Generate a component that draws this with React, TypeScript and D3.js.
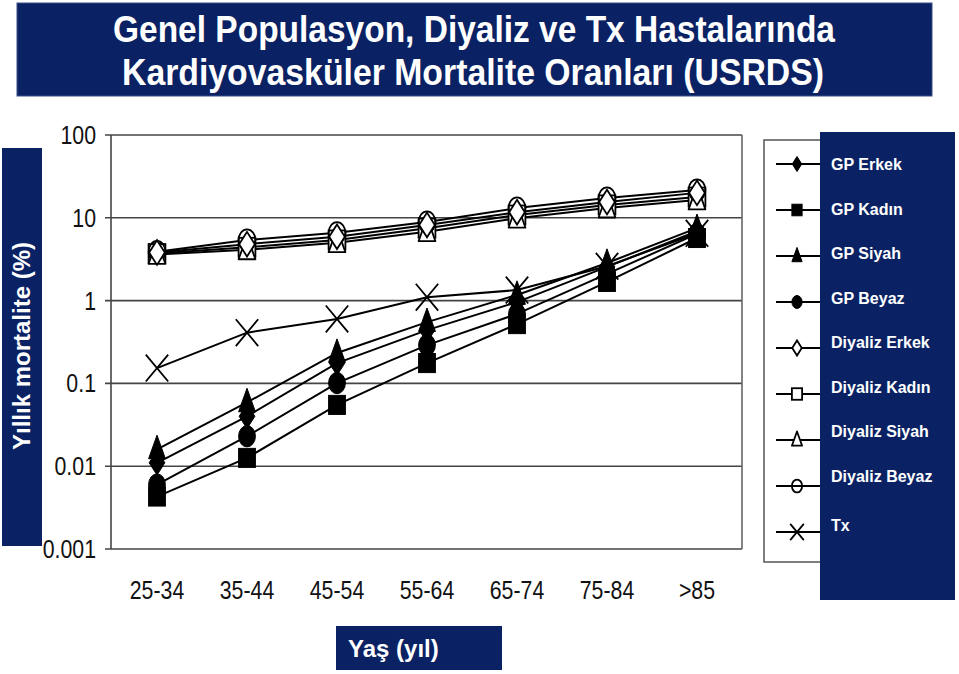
import React from "react";
import * as d3 from "d3";

const ageGroups = ["25-34", "35-44", "45-54", "55-64", "65-74", "75-84", ">85"];
const gpErkek = [0.011, 0.04, 0.176, 0.44, 0.96, 2.55, 6.9];
const gpKadin = [0.0043, 0.0126, 0.055, 0.176, 0.52, 1.68, 5.7];
const gpSiyah = [0.016, 0.059, 0.233, 0.55, 1.17, 2.85, 7.5];
const gpBeyaz = [0.006, 0.023, 0.101, 0.29, 0.69, 2.1, 6.4];
const diyalizErkek = [3.8, 4.8, 5.9, 8.2, 11.7, 15.5, 20.0];
const diyalizKadin = [3.7, 4.4, 5.4, 7.5, 10.8, 14.3, 17.8];
const diyalizSiyah = [3.6, 4.1, 5.0, 6.8, 9.9, 13.1, 16.4];
const diyalizBeyaz = [3.9, 5.4, 6.6, 8.9, 13.1, 17.3, 21.7];
const tx = [0.153, 0.41, 0.6, 1.1, 1.34, 2.6, 6.5];
const yTicks = [100, 10, 1, 0.1, 0.01, 0.001];
const yTickLabels = ["100", "10", "1", "0.1", "0.01", "0.001"];
const titleLines = [
  "Genel Populasyon, Diyaliz ve Tx Hastalarında",
  "Kardiyovasküler Mortalite Oranları (USRDS)",
];
const yAxisTitle = "Yıllık mortalite (%)";
const xAxisTitle = "Yaş (yıl)";

type Shape = "diamond" | "square" | "triangle" | "circle" | "x";
const seriesList: { name: string; values: number[]; shape: Shape; filled: boolean }[] = [
  { name: "GP Erkek", values: gpErkek, shape: "diamond", filled: true },
  { name: "GP Kadın", values: gpKadin, shape: "square", filled: true },
  { name: "GP Siyah", values: gpSiyah, shape: "triangle", filled: true },
  { name: "GP Beyaz", values: gpBeyaz, shape: "circle", filled: true },
  { name: "Diyaliz Erkek", values: diyalizErkek, shape: "diamond", filled: false },
  { name: "Diyaliz Kadın", values: diyalizKadin, shape: "square", filled: false },
  { name: "Diyaliz Siyah", values: diyalizSiyah, shape: "triangle", filled: false },
  { name: "Diyaliz Beyaz", values: diyalizBeyaz, shape: "circle", filled: false },
  { name: "Tx", values: tx, shape: "x", filled: false },
];

const NAVY = "#0a2264";
const FONT = "'Liberation Sans', Arial, Helvetica, sans-serif";

function Marker({ shape, cx, cy, s, filled }: { shape: Shape; cx: number; cy: number; s: number; filled: boolean }) {
  const fill = filled ? "#000" : "#fff";
  const sw = filled ? 1 : 1.8;
  if (shape === "square") {
    const w = 15 * s, h = 17 * s;
    return <rect x={cx - w / 2} y={cy - h / 2} width={w} height={h} fill={fill} stroke="#000" strokeWidth={sw} />;
  }
  if (shape === "circle") {
    return <ellipse cx={cx} cy={cy} rx={7.5 * s} ry={9.5 * s} fill={filled ? "#000" : "none"} stroke="#000" strokeWidth={sw} />;
  }
  if (shape === "triangle") {
    const w = 15 * s, h = 21 * s;
    const p = `M${cx},${cy - h * 0.6}L${cx + w / 2},${cy + h * 0.4}L${cx - w / 2},${cy + h * 0.4}Z`;
    return <path d={p} fill={fill} stroke="#000" strokeWidth={sw} strokeLinejoin="round" />;
  }
  if (shape === "diamond") {
    const w = 14 * s, h = 22 * s;
    const p = `M${cx},${cy - h / 2}L${cx + w / 2},${cy}L${cx},${cy + h / 2}L${cx - w / 2},${cy}Z`;
    return <path d={p} fill={fill} stroke="#000" strokeWidth={sw} />;
  }
  const w = 10 * s, h = 12 * s;
  return (
    <path
      d={`M${cx - w},${cy - h}L${cx + w},${cy + h}M${cx + w},${cy - h}L${cx - w},${cy + h}`}
      stroke="#000"
      strokeWidth={1.8}
      fill="none"
    />
  );
}

export default function App() {
  const left = 111, right = 742, top = 135, bottom = 549;
  const x = d3.scalePoint<string>().domain(ageGroups).range([157, 697]);
  const y = d3.scaleLog().domain([0.001, 100]).range([bottom, top]);
  const line = d3
    .line<number>()
    .x((_, i) => x(ageGroups[i]) as number)
    .y((v) => y(v));

  const markerOrder = [8, 1, 3, 2, 0, 5, 7, 6, 4];

  return (
    <svg width={959} height={674} style={{ position: "absolute", left: 0, top: 0, background: "#fff" }} fontFamily={FONT}>
      <rect x={0} y={0} width={959} height={674} fill="#fff" />
      {/* Title */}
      <rect x={17} y={3} width={915} height={93} fill={NAVY} stroke="#3a4f85" strokeWidth={1} />
      {titleLines.map((t, i) => (
        <text
          key={t}
          x={i === 0 ? 113 : 122}
          y={i === 0 ? 42 : 85}
          fill="#fff"
          fontSize={36}
          fontWeight="bold"
          textLength={i === 0 ? 722 : 702}
          lengthAdjust="spacingAndGlyphs"
        >
          {t}
        </text>
      ))}

      {/* Y axis title box */}
      <rect x={2} y={148} width={40} height={398} fill={NAVY} />
      <text
        transform={`translate(30,${346}) rotate(-90)`}
        textAnchor="middle"
        fill="#fff"
        fontSize={24}
        fontWeight="bold"
      >
        {yAxisTitle}
      </text>

      {/* Grid lines */}
      {yTicks.map((t) => (
        <line key={t} x1={105} x2={right} y1={y(t)} y2={y(t)} stroke="#444" strokeWidth={1.6} />
      ))}
      <line x1={left} x2={left} y1={top} y2={bottom} stroke="#444" strokeWidth={1.6} />
      <line x1={right} x2={right} y1={top} y2={bottom} stroke="#666" strokeWidth={1.6} />

      {/* Y tick labels */}
      {yTicks.map((t, i) => (
        <text
          key={t}
          transform={`translate(96,${y(t) + 9}) scale(0.82,1)`}
          textAnchor="end"
          fontSize={26}
          fill="#111"
        >
          {yTickLabels[i]}
        </text>
      ))}

      {/* X tick labels */}
      {ageGroups.map((g) => (
        <text
          key={g}
          transform={`translate(${x(g)},${599}) scale(0.82,1)`}
          textAnchor="middle"
          fontSize={26}
          fill="#111"
        >
          {g}
        </text>
      ))}

      {/* Lines */}
      {seriesList.map((s) => (
        <path key={s.name} d={line(s.values) as string} fill="none" stroke="#000" strokeWidth={2} />
      ))}

      {/* Markers */}
      {markerOrder.map((si) => {
        const s = seriesList[si];
        return (
          <g key={s.name}>
            {s.values.map((v, i) => (
              <Marker key={i} shape={s.shape} cx={x(ageGroups[i]) as number} cy={y(v)} s={1.12} filled={s.filled} />
            ))}
          </g>
        );
      })}

      {/* X axis title */}
      <rect x={336} y={626} width={166} height={44} fill={NAVY} />
      <text x={348} y={657} fill="#fff" fontSize={24} fontWeight="bold">
        {xAxisTitle}
      </text>

      {/* Legend */}
      <rect x={764} y={140} width={80} height={422} fill="#fff" stroke="#555" strokeWidth={1.5} />
      <rect x={820} y={132} width={135} height={468} fill={NAVY} />
      {seriesList.map((s, i) => {
        const my = 164 + i * 46;
        const ty = 164 + i * 44.5 + (i === 8 ? 5 : 0);
        return (
          <g key={s.name}>
            <line x1={776} x2={820} y1={my} y2={my} stroke="#000" strokeWidth={2} />
            <Marker shape={s.shape} cx={797} cy={my} s={0.68} filled={s.filled} />
            <text x={831} y={ty + 6} fill="#fff" fontSize={16} fontWeight="bold">
              {s.name}
            </text>
          </g>
        );
      })}
    </svg>
  );
}
